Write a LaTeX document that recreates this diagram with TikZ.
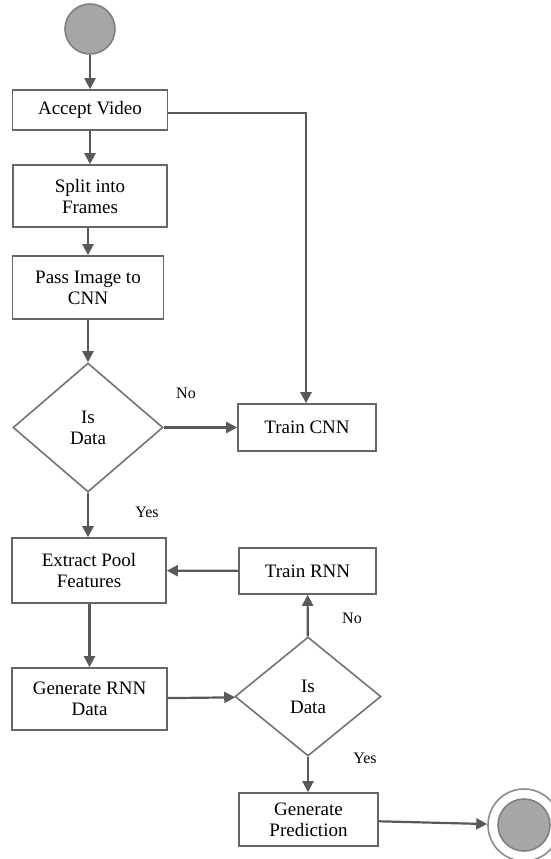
\documentclass[tikz,border=0pt]{standalone}
\usepackage{fontspec}
\setmainfont{Liberation Serif}
\usetikzlibrary{arrows.meta,shapes.geometric}
\begin{document}
\begin{tikzpicture}[x=1pt,y=-1pt,
  every node/.style={font=\fontsize{19}{21}\selectfont, text=black},
  box/.style={draw=black!60, line width=1.6pt, fill=white, align=center, inner sep=0pt},
  dia/.style={draw=black!55, line width=1.6pt, diamond, align=center, inner sep=0pt},
  conn/.style={draw=black!65, line width=2.2pt, -{Triangle[length=11pt,width=11pt]}},
  lbl/.style={font=\fontsize{16}{18}\selectfont},
  startc/.style={circle, draw=black!50, line width=1.6pt, fill=black!35, inner sep=0pt}]
\useasboundingbox (0,0) rectangle (551,859);
\node[startc, minimum size=50pt] (s) at (90,29) {};
\node[box, minimum width=155pt, minimum height=40pt] (acc) at (90,110) {Accept Video};
\node[box, minimum width=154pt, minimum height=62pt] (spl) at (90,196) {Split into\\Frames};
\node[box, minimum width=151pt, minimum height=63pt] (pas) at (88,287.5) {Pass Image to\\CNN};
\node[dia, minimum width=150pt, minimum height=129pt] (d1) at (88,427.5) {Is\\Data};
\node[box, minimum width=138pt, minimum height=47pt] (tc) at (307,427.5) {Train CNN};
\node[box, minimum width=154pt, minimum height=65pt] (ext) at (89,570.5) {Extract Pool\\Features};
\node[box, minimum width=137pt, minimum height=46pt] (tr) at (307.5,571) {Train RNN};
\node[box, minimum width=155pt, minimum height=62pt] (gen) at (89.5,699) {Generate RNN\\Data};
\node[dia, minimum width=146pt, minimum height=119pt] (d2) at (308,696.5) {Is\\Data};
\node[box, minimum width=139pt, minimum height=53pt] (gp) at (308.5,819.5) {Generate\\Prediction};
\node[circle, draw=black!45, line width=1.6pt, fill=white, minimum size=72pt, inner sep=0pt] (e) at (524,825) {};
\node[startc, minimum size=52pt] (ei) at (524,825) {};
\coordinate (c1) at (306,113);
\draw[conn] (s) -- (acc);
\draw[conn] (acc) -- (spl);
\draw[conn] (spl.south -| pas) -- (pas);
\draw[conn] (pas) -- (d1);
\draw[conn] (d1) -- (d1 |- ext.north);
\draw[conn] (ext.south -| gen) -- (gen);
\draw[conn] (gen) -- (d2);
\draw[conn] (d2) -- (tr);
\draw[conn] (tr) -- (ext);
\draw[conn] (d2) -- (d2 |- gp.north);
\draw[conn] (gp) -- (e);
\draw[conn] (d1) -- (tc);
\draw[conn] (acc.east |- c1) -- (c1) -- (c1 |- tc.north);
\node[lbl] (n1) at (186,393) {No};
\node[lbl] (y1) at (147,512) {Yes};
\node[lbl] (n2) at (352,618) {No};
\node[lbl] (y2) at (365,758) {Yes};
\end{tikzpicture}
\end{document}
